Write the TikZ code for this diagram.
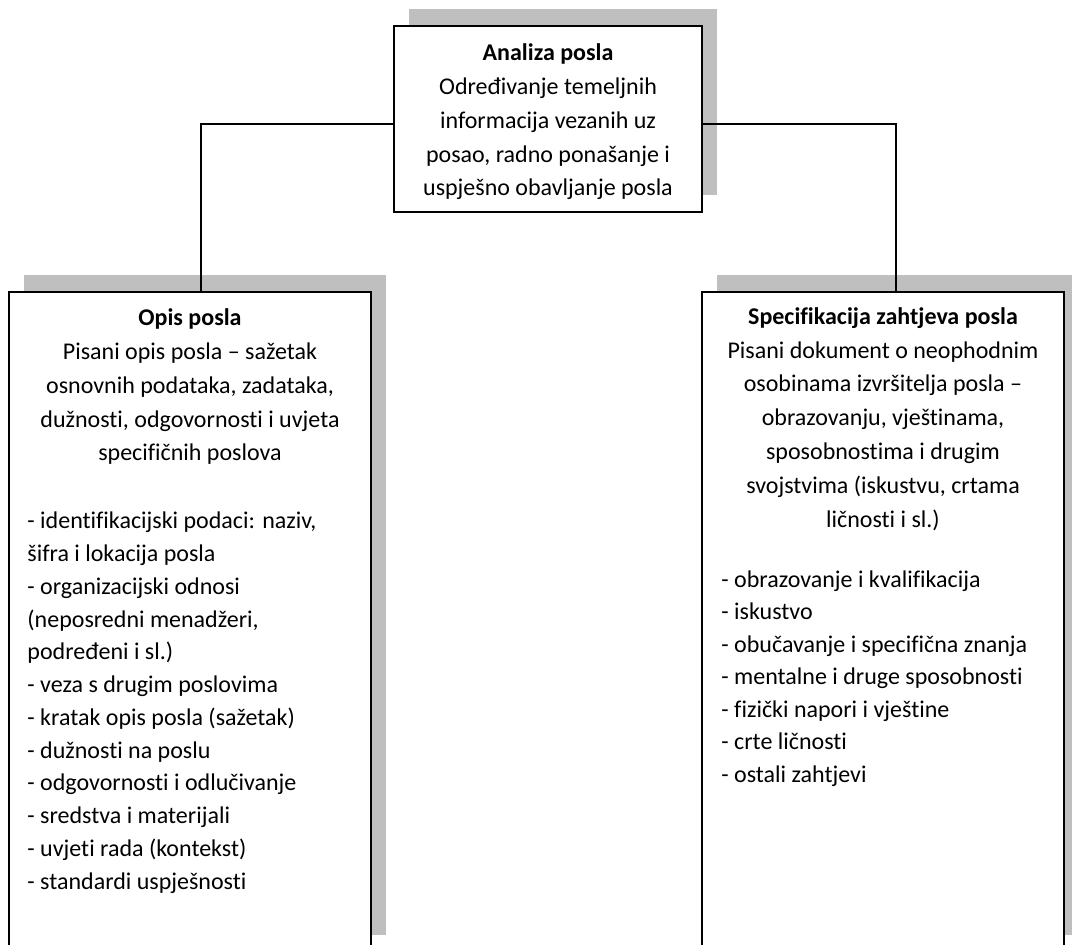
\documentclass[tikz,border=0pt]{standalone}
\usepackage{fontspec}
\setmainfont{Carlito}[Ligatures=NoCommon]
\usepackage{tikz}
\usetikzlibrary{positioning, shadows}
\definecolor{shadowgray}{RGB}{191,191,191}

\begin{document}
\begin{tikzpicture}[
    x=0.4583pt, y=-0.4583pt,
    every node/.style={font=\fontsize{11pt}{15.49pt}\selectfont},
    panel/.style={rectangle, draw=black, line width=0.9pt, fill=white, inner sep=0pt,
        general shadow={fill=shadowgray, shadow xshift=6.9pt, shadow yshift=7.6pt}},
    headtext/.style={align=center, anchor=base, inner sep=0pt},
    listtext/.style={align=left, anchor=base west, inner sep=0pt, font=\fontsize{11pt}{15pt}\selectfont},
    link/.style={line width=0.9pt, black}
]
\useasboundingbox (0,0) rectangle (1072,945);

% boxes
\node[panel, minimum width=141.2pt, minimum height=85.2pt] (analiza) at (548,119) {};
\node[panel, minimum width=165.9pt, minimum height=302.5pt] (opis) at (190,622) {};
\node[panel, minimum width=165.9pt, minimum height=302.5pt] (spec) at (883,622) {};

% texts (anchored at the baseline of the last line)
\node[headtext] (analizahead) at (548,196) {\textbf{Analiza posla}\\Određivanje temeljnih\\informacija vezanih uz\\posao, radno ponašanje i\\uspješno obavljanje posla};

\node[headtext] (opishead) at (190,461) {\textbf{Opis posla}\\Pisani opis posla – sažetak\\osnovnih podataka, zadataka,\\dužnosti, odgovornosti i uvjeta\\specifičnih poslova};
\node[listtext] (opislist) at (27,889) {- identifikacijski podaci: naziv,\\šifra i lokacija posla\\- organizacijski odnosi\\(neposredni menadžeri,\\podređeni i sl.)\\- veza s drugim poslovima\\- kratak opis posla (sažetak)\\- dužnosti na poslu\\- odgovornosti i odlučivanje\\- sredstva i materijali\\- uvjeti rada (kontekst)\\- standardi uspješnosti};

\node[headtext] (spechead) at (883,527) {\textbf{Specifikacija zahtjeva posla}\\Pisani dokument o neophodnim\\osobinama izvršitelja posla –\\obrazovanju, vještinama,\\sposobnostima i drugim\\svojstvima (iskustvu, crtama\\ličnosti i sl.)};
\node[listtext, font=\fontsize{11pt}{14.85pt}\selectfont] (speclist) at (721,782) {- obrazovanje i kvalifikacija\\- iskustvo\\- obučavanje i specifična znanja\\- mentalne i druge sposobnosti\\- fizički napori i vještine\\- crte ličnosti\\- ostali zahtjevi};

% connectors
\draw[link] ([yshift=-2.3pt]analiza.west) -| ([xshift=5pt]opis.north);
\draw[link] ([yshift=-2.3pt]analiza.east) -| ([xshift=6pt]spec.north);

\end{tikzpicture}
\end{document}
